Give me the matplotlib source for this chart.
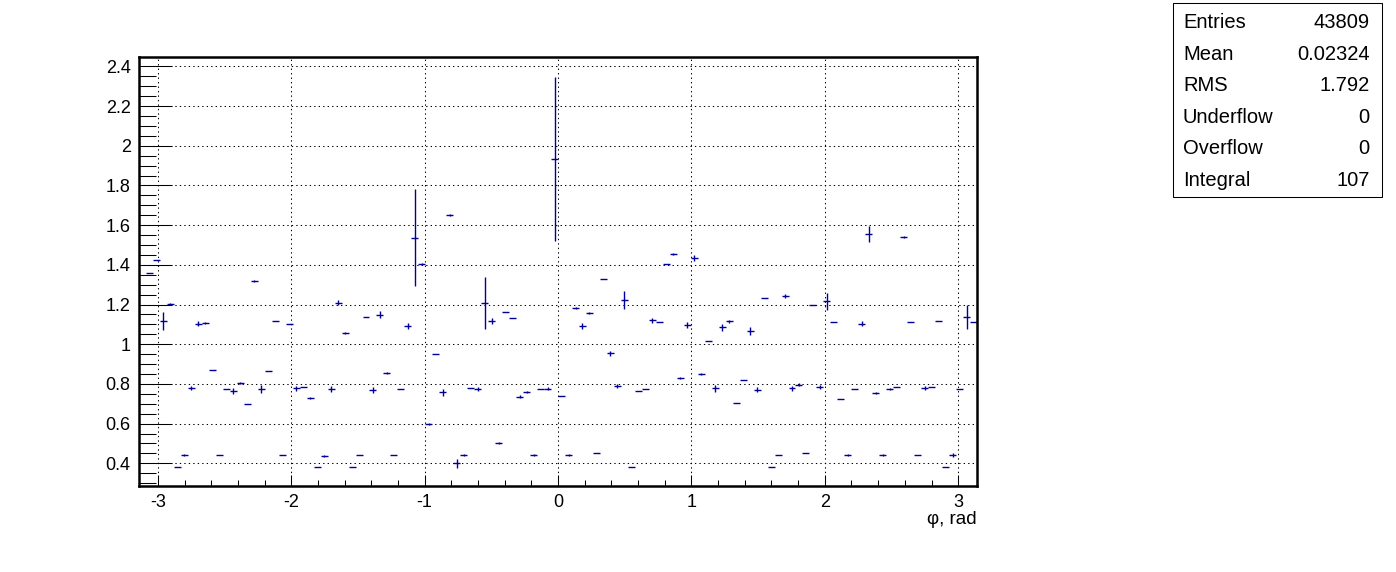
import numpy as np
import matplotlib
matplotlib.use('Agg')
from matplotlib import pyplot as plt
from matplotlib.ticker import MultipleLocator, FormatStrFormatter

n_bins = 120
phi_min, phi_max = -np.pi, np.pi

# bin contents (bin 0 is empty)
values = [0.0, 1.359, 1.426, 1.117, 1.203, 0.382, 0.442, 0.779, 1.103, 1.108,
          0.870, 0.442, 0.774, 0.764, 0.804, 0.698, 1.319, 0.774, 0.866, 1.117,
          0.442, 1.103, 0.777, 0.784, 0.730, 0.380, 0.437, 0.774, 1.209, 1.056,
          0.380, 0.442, 1.137, 0.769, 1.149, 0.855, 0.442, 0.775, 1.092, 1.536,
          1.403, 0.597, 0.950, 0.757, 1.652, 0.400, 0.442, 0.779, 0.775, 1.208,
          1.117, 0.501, 1.162, 1.132, 0.735, 0.760, 0.442, 0.775, 0.775, 1.932,
          0.739, 0.442, 1.183, 1.092, 1.157, 0.451, 1.329, 0.955, 0.789, 1.223,
          0.380, 0.764, 0.774, 1.120, 1.112, 1.403, 1.455, 0.829, 1.097, 1.435,
          0.850, 1.016, 0.777, 1.085, 1.115, 0.703, 0.821, 1.068, 0.770, 1.233,
          0.380, 0.442, 1.245, 0.777, 0.797, 0.451, 1.199, 0.785, 1.216, 1.112,
          0.723, 0.442, 0.774, 1.103, 1.554, 0.754, 0.442, 0.774, 0.784, 1.541,
          1.112, 0.442, 0.779, 0.784, 1.117, 0.380, 0.442, 0.774, 1.137, 1.112]

errors = [0.0, 0.0, 0.0, 0.045, 0.006, 0.0, 0.006, 0.008, 0.013, 0.006,
          0.0, 0.0, 0.0, 0.017, 0.006, 0.0, 0.006, 0.020, 0.0, 0.0,
          0.0, 0.0, 0.013, 0.0, 0.006, 0.0, 0.006, 0.014, 0.013, 0.006,
          0.0, 0.0, 0.0, 0.017, 0.017, 0.006, 0.0, 0.0, 0.015, 0.244,
          0.006, 0.006, 0.0, 0.017, 0.006, 0.024, 0.006, 0.0, 0.010, 0.133,
          0.016, 0.006, 0.0, 0.0, 0.008, 0.006, 0.006, 0.0, 0.008, 0.414,
          0.0, 0.006, 0.006, 0.015, 0.006, 0.0, 0.0, 0.012, 0.012, 0.045,
          0.0, 0.0, 0.0, 0.013, 0.0, 0.0, 0.006, 0.006, 0.015, 0.016,
          0.006, 0.0, 0.019, 0.016, 0.006, 0.0, 0.0, 0.020, 0.013, 0.0,
          0.0, 0.0, 0.010, 0.014, 0.006, 0.0, 0.0, 0.012, 0.043, 0.0,
          0.0, 0.006, 0.0, 0.012, 0.040, 0.006, 0.006, 0.006, 0.0, 0.006,
          0.0, 0.0, 0.010, 0.0, 0.0, 0.0, 0.009, 0.0, 0.061, 0.0]

stat_names = ["Entries", "Mean", "RMS", "Underflow", "Overflow", "Integral"]
stat_values = ["43809", "0.02324", "1.792", "0", "0", "107"]

plt.rcParams['font.family'] = ['Liberation Sans', 'DejaVu Sans']
plt.rcParams['axes.unicode_minus'] = False

edges = np.linspace(phi_min, phi_max, n_bins + 1)
centers = (edges[:-1] + edges[1:]) / 2
half_width = (edges[1] - edges[0]) / 2

fig = plt.figure(figsize=(13.96, 5.72), dpi=100)
ax = fig.add_axes([0.0996, 0.1503, 0.6003, 0.75])

ax.errorbar(centers, values, xerr=half_width, yerr=errors, fmt='none',
            ecolor='#000099', elinewidth=1.0, capsize=0)

ax.set_xlim(phi_min, phi_max)
ax.set_ylim(0.2855, 2.447)

ax.xaxis.set_major_locator(MultipleLocator(1))
ax.xaxis.set_minor_locator(MultipleLocator(0.2))
ax.yaxis.set_major_locator(MultipleLocator(0.2))
ax.yaxis.set_minor_locator(MultipleLocator(0.05))
ax.xaxis.set_major_formatter(FormatStrFormatter('%g'))
ax.yaxis.set_major_formatter(FormatStrFormatter('%g'))

ax.tick_params(which='both', direction='in', top=False, right=False)
ax.tick_params(axis='y', which='major', length=24, width=0.75, pad=6, labelsize=13)
ax.tick_params(axis='y', which='minor', length=12, width=0.75)
ax.tick_params(axis='x', which='major', length=8, width=0.75, pad=6, labelsize=13)
ax.tick_params(axis='x', which='minor', length=4, width=0.75)
ax.grid(True, which='major', color='black', linestyle=(0, (1.3, 3)), linewidth=0.75)
for sp in ax.spines.values():
    sp.set_linewidth(1.8)

ax.set_xlabel('φ, rad', fontsize=13.5, loc='right', labelpad=0)

# stats box
fig.add_artist(plt.Rectangle((0.8403, 0.6556), 0.1497, 0.3392, transform=fig.transFigure,
                             fill=False, edgecolor='black', linewidth=0.75))
for i, (name, val) in enumerate(zip(stat_names, stat_values)):
    y = 1 - (28 + i * 31.6) / 572
    fig.text(0.8474, y, name, fontsize=14.5, va='baseline', ha='left')
    fig.text(0.9810, y, val, fontsize=14.5, va='baseline', ha='right')

fig.savefig('out.png', dpi=100)
